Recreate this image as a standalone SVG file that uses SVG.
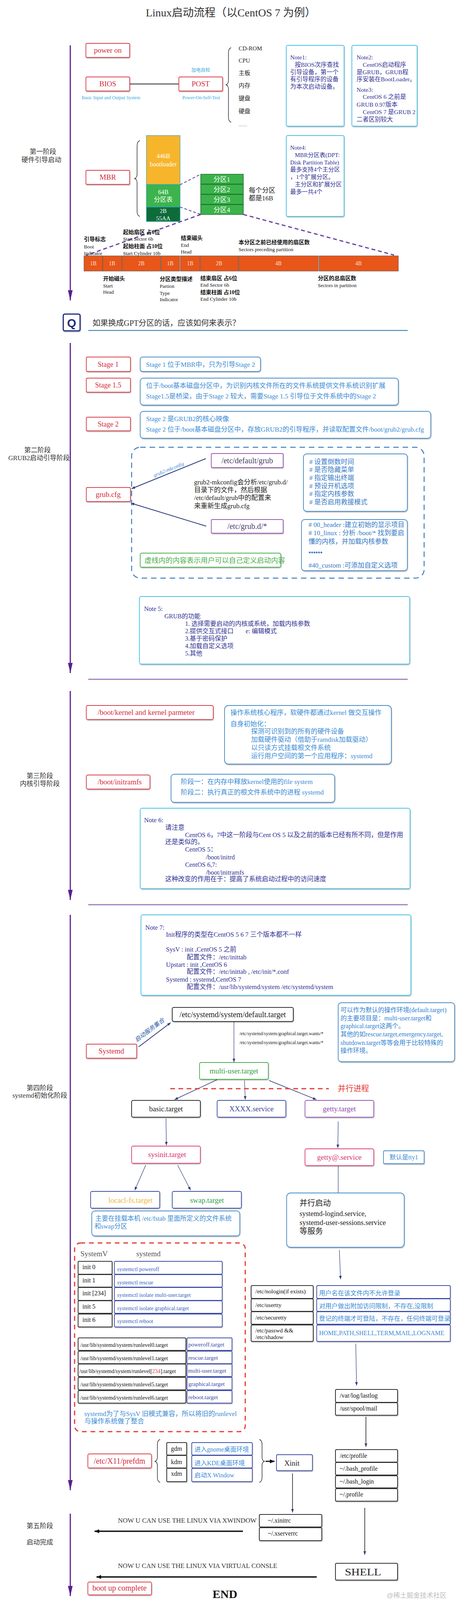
<svg xmlns="http://www.w3.org/2000/svg" width="1183" height="4220" viewBox="0 0 1183 4220">
<defs>
<filter id="sh" x="-10%" y="-20%" width="125%" height="150%"><feDropShadow dx="1" dy="2" stdDeviation="1.2" flood-color="#000" flood-opacity="0.28"/></filter>
<marker id="ah" viewBox="0 0 10 8" refX="10" refY="4" markerWidth="9" markerHeight="7" markerUnits="userSpaceOnUse" orient="auto"><path d="M0,0 L10,4 L0,8 z" fill="#2d3a78"/></marker>
<marker id="ahP" viewBox="0 0 26 12" refX="26" refY="6" markerWidth="26" markerHeight="12" markerUnits="userSpaceOnUse" orient="auto"><path d="M0,0 L26,6 L0,12 z" fill="#5b1f8f"/></marker>
<marker id="ahK" viewBox="0 0 12 10" refX="12" refY="5" markerWidth="12" markerHeight="10" markerUnits="userSpaceOnUse" orient="auto"><path d="M0,0 L12,5 L0,10 z" fill="#111"/></marker>
</defs>
<style>
text{font-family:'Liberation Serif','Noto Sans CJK SC',serif;}
.c{text-anchor:middle}
.rb{fill:#fff;stroke:#d9404c;stroke-width:1.8;filter:url(#sh)}
.bb{fill:#fff;stroke:#4a8cc6;stroke-width:1.8;filter:url(#sh)}
.nb{fill:#fff;stroke:#48c0e8;stroke-width:1.8;filter:url(#sh)}
.kb{fill:#fff;stroke:#333;stroke-width:2;filter:url(#sh)}
.vb{fill:#fff;stroke:#3f4fa8;stroke-width:1.8;filter:url(#sh)}
.pb{fill:#fff;stroke:#9b59b6;stroke-width:1.8;filter:url(#sh)}
.mb{fill:#fff;stroke:#e0457b;stroke-width:1.8;filter:url(#sh)}
.gb{fill:#fff;stroke:#4caf50;stroke-width:1.8;filter:url(#sh)}
.tr{fill:#d42a3a;font-size:19px}
.tb{fill:#3a8bd4;font-size:17px}
.tn{fill:#2e3192;font-size:16px}
.tk{fill:#222}
.side{fill:#333;font-size:17px;text-anchor:middle}
.lbl{fill:#111;font-size:14px;font-weight:bold}
.lbe{fill:#111;font-size:13px}
.wt{fill:#fff}
.cell{fill:#e8561a;stroke:#555;stroke-width:1}
.stage{stroke:#5b1f8f;stroke-width:3;fill:none;marker-end:url(#ahP)}
.sep{stroke:#a07cc0;stroke-width:3}
.con{stroke:#2d3a78;stroke-width:1.5;fill:none;marker-end:url(#ah)}
.thick{stroke:#111;stroke-width:3.5;fill:none;marker-end:url(#ahK)}
</style>
<rect width="1183" height="4220" fill="#fff"/>

<text id="title" x="591" y="42" class="c" style="font-size:28px;fill:#333">Linux启动流程（以CentOS 7 为例）</text>

<g id="side-labels">
<text x="110" y="394" class="side">第一阶段</text>
<text x="106" y="415" class="side">硬件引导启动</text>
<text x="96" y="1158" class="side">第二阶段</text>
<text x="100" y="1178" class="side">GRUB2启动引导阶段</text>
<text x="102" y="1992" class="side">第三阶段</text>
<text x="102" y="2012" class="side">内核引导阶段</text>
<text x="102" y="2791" class="side">第四阶段</text>
<text x="102" y="2810" class="side">systemd初始化阶段</text>
<text x="102" y="3912" class="side">第五阶段</text>
<text x="102" y="3954" class="side">启动完成</text>
</g>

<g id="connectors">
<line x1="180" y1="116" x2="180" y2="769" class="stage"/>
<line x1="180" y1="878" x2="180" y2="1723" class="stage"/>
<line x1="180" y1="1769" x2="180" y2="2304" class="stage"/>
<line x1="180" y1="2342" x2="180" y2="3815" class="stage"/>
<line x1="180" y1="3875" x2="180" y2="4086" class="stage"/>
<line x1="332" y1="215" x2="458" y2="215" stroke="#666" stroke-width="3"/>
<path d="M592,122 Q585,124 585,136 L585,205 Q585,215 579,217 Q585,219 585,229 L585,300 Q585,311 592,313" fill="none" stroke="#222" stroke-width="1.4"/>
<path d="M358,360 Q351,362 351,374 L351,445 Q351,455 345,457 Q351,459 351,469 L351,541 Q351,552 358,554" fill="none" stroke="#222" stroke-width="1.4"/>
<line x1="461" y1="473" x2="514" y2="446" stroke="#5b3f9e" stroke-width="2" stroke-dasharray="7 5"/>
<line x1="461" y1="530" x2="514" y2="549" stroke="#5b3f9e" stroke-width="2" stroke-dasharray="7 5"/>
<line x1="514" y1="549" x2="220" y2="654" stroke="#6b3fa0" stroke-width="3" stroke-dasharray="10 7"/>
<line x1="623" y1="549" x2="1009" y2="653" stroke="#6b3fa0" stroke-width="3" stroke-dasharray="10 7"/>
<line x1="226" y1="846" x2="1044" y2="846" stroke="#4a8dbd" stroke-width="2.5"/>
<line x1="527" y1="1174" x2="337" y2="1251" class="con" style="stroke-width:2"/>
<line x1="528" y1="1347" x2="335" y2="1288" class="con" style="stroke-width:2"/>
<text x="432" y="1206" class="c" transform="rotate(-22 432 1202)" style="font-size:13px;fill:#3a8bd4;font-style:italic">grub2-mkconfig</text>
<line x1="226" y1="1739" x2="1044" y2="1739" class="sep"/>
<line x1="226" y1="2316" x2="1044" y2="2316" class="sep"/>
<line x1="355" y1="2680" x2="437" y2="2618" class="con" style="stroke-width:2"/>
<text x="383" y="2642" class="c" transform="rotate(-37 383 2637)" style="font-size:15px;fill:#2e5ca8;font-style:italic">启动服务集合</text>
<line x1="599" y1="2615" x2="599" y2="2719" class="con" style="stroke-width:1.2"/>
<text x="613" y="2650" style="font-size:12px;fill:#222">/etc/systemd/system/graphical.target.wants/*</text>
<text x="613" y="2673" style="font-size:12px;fill:#222">/etc/systemd/system/graphical.target.wants/*</text>
<line x1="556" y1="2764" x2="447" y2="2815" class="con"/>
<line x1="626" y1="2766" x2="628" y2="2815" class="con" style="stroke-width:1.2"/>
<line x1="689" y1="2766" x2="810" y2="2815" class="con"/>
<line x1="436" y1="2787" x2="842" y2="2787" stroke="#e53935" stroke-width="3" stroke-dasharray="12 9"/>
<text x="865" y="2794" style="font-size:20px;fill:#e53935">并行进程</text>
<line x1="425" y1="2863" x2="426" y2="2932" class="con" style="stroke-width:1.2"/>
<line x1="866" y1="2871" x2="865" y2="2939" class="con" style="stroke-width:1.2"/>
<line x1="373" y1="2983" x2="345" y2="3047" class="con" style="stroke-width:1.2"/>
<line x1="455" y1="2983" x2="488" y2="3047" class="con" style="stroke-width:1.2"/>
<line x1="866" y1="2984" x2="866" y2="3053" stroke="#2d3a78" stroke-width="1.2"/>
<line x1="869" y1="3200" x2="872" y2="3275" class="con" style="stroke-width:1.2"/>
<line x1="911" y1="3440" x2="913" y2="3547" class="con" style="stroke-width:1.2"/>
<line x1="937" y1="3627" x2="937" y2="3704" stroke="#111" stroke-width="1.5" marker-end="url(#ah)"/>
<line x1="934" y1="3860" x2="934" y2="3980" stroke="#111" stroke-width="1.5" marker-end="url(#ah)"/>
<path d="M410,3685 Q403,3687 403,3698 L403,3730 Q403,3739 397,3741 Q403,3743 403,3752 L403,3782 Q403,3793 410,3795" fill="none" stroke="#222" stroke-width="1.4"/>
<path d="M664,3685 Q671,3687 671,3698 L671,3730 Q671,3739 677,3741 Q671,3743 671,3752 L671,3782 Q671,3793 664,3795" fill="none" stroke="#222" stroke-width="1.4"/>
<line x1="680" y1="3741" x2="703" y2="3741" class="thick" style="stroke-width:3"/>
<line x1="749" y1="3772" x2="749" y2="3872" stroke="#111" stroke-width="1.5" marker-end="url(#ah)"/>
<line x1="622" y1="3920" x2="242" y2="3920" class="thick"/>
<line x1="811" y1="4037" x2="247" y2="4037" class="thick"/>
<line x1="190" y1="4101" x2="1009" y2="4101" stroke="#b39ddb" stroke-width="3"/>
</g>

<g id="power-on"><rect x="220" y="111" width="112" height="36" rx="3" class="rb"/><text x="276" y="135" class="c tr">power on</text></g>
<g id="bios"><rect x="220" y="197" width="112" height="36" rx="3" class="rb"/><text x="276" y="221" class="c tr">BIOS</text>
<text x="284" y="254" class="c" style="font-size:12px;fill:#3aa8e0">Basic Input and Output System</text></g>
<g id="post"><rect x="458" y="197" width="112" height="36" rx="3" class="rb"/><text x="514" y="221" class="c tr">POST</text>
<text x="514" y="184" class="c" style="font-size:12px;fill:#3aa8e0">加电自检</text>
<text x="515" y="254" class="c" style="font-size:12px;fill:#3aa8e0">Power-On-Self-Test</text></g>
<g id="hw-list" style="font-size:15px;fill:#222">
<text x="611" y="129">CD-ROM</text><text x="611" y="160">CPU</text><text x="611" y="192">主板</text><text x="611" y="224">内存</text><text x="611" y="257">键盘</text><text x="611" y="290">硬盘</text><text x="611" y="323" style="font-size:11px">……</text>
</g>
<g id="note1"><rect x="733" y="116" width="148" height="207" rx="4" class="nb"/>
<text class="tn" style="font-size:15.5px"><tspan x="743" y="152">Note1:</tspan><tspan x="755" y="171">按BIOS次序查找</tspan><tspan x="743" y="190">引导设备，第一个</tspan><tspan x="743" y="208">有引导程序的设备</tspan><tspan x="743" y="227">为本次启动设备。</tspan></text></g>
<g id="note2"><rect x="901" y="116" width="167" height="207" rx="4" class="nb"/>
<text class="tn" style="font-size:15.5px"><tspan x="913" y="152">Note2:</tspan><tspan x="929" y="171">CentOS启动程序</tspan><tspan x="913" y="190">是GRUB，GRUB程</tspan><tspan x="913" y="208">序安装在BootLoader。</tspan><tspan x="913" y="235">Note3:</tspan><tspan x="929" y="253">CentOS 6 之前是</tspan><tspan x="913" y="273">GRUB 0.97版本</tspan><tspan x="929" y="292">CentOS 7 是GRUB 2</tspan><tspan x="913" y="311">二者区别较大</tspan></text></g>

<g id="mbr"><rect x="220" y="436" width="112" height="36" rx="3" class="rb"/><text x="276" y="460" class="c tr">MBR</text></g>
<g id="mbr-blocks">
<rect x="375" y="347" width="86" height="125" fill="#f7b52b" stroke="#5fa8a8" stroke-width="1.5"/>
<text x="418" y="405" class="c wt" style="font-size:16px">446B</text><text x="418" y="426" class="c wt" style="font-size:16px">bootloader</text>
<rect x="375" y="473" width="86" height="56" fill="#3cb44b" stroke="#2aa6a0" stroke-width="1.5"/>
<text x="418" y="497" class="c wt" style="font-size:16px">64B</text><text x="418" y="516" class="c wt" style="font-size:16px">分区表</text>
<rect x="375" y="530" width="86" height="37" fill="#0e6b3a" stroke="#2aa6a0" stroke-width="1.5"/>
<text x="418" y="545" class="c wt" style="font-size:15px">2B</text><text x="418" y="564" class="c wt" style="font-size:15px">55AA</text>
</g>
<g id="partitions">
<rect x="514" y="446" width="109" height="25" fill="#3bb34a" stroke="#1f6b30" stroke-width="1.5"/>
<rect x="514" y="472" width="109" height="25" fill="#3bb34a" stroke="#1f6b30" stroke-width="1.5"/>
<rect x="514" y="498" width="109" height="25" fill="#3bb34a" stroke="#1f6b30" stroke-width="1.5"/>
<rect x="514" y="524" width="109" height="25" fill="#3bb34a" stroke="#1f6b30" stroke-width="1.5"/>
<text x="568" y="465" class="c wt" style="font-size:17px">分区1</text><text x="568" y="491" class="c wt" style="font-size:17px">分区2</text><text x="568" y="517" class="c wt" style="font-size:17px">分区3</text><text x="568" y="543" class="c wt" style="font-size:17px">分区4</text>
<text x="637" y="493" style="font-size:17px;fill:#222">每个分区</text><text x="637" y="513" style="font-size:17px;fill:#222">都是16B</text>
</g>
<g id="note4"><rect x="733" y="347" width="148" height="207" rx="4" class="nb"/>
<text class="tn" style="font-size:15px"><tspan x="743" y="383">Note4:</tspan><tspan x="755" y="402">MBR分区表(DPT:</tspan><tspan x="743" y="421">Disk Partition Table)</tspan><tspan x="743" y="439">最多支持4个主分区</tspan><tspan x="743" y="458">，1个扩展分区。</tspan><tspan x="755" y="477">主分区和扩展分区</tspan><tspan x="743" y="496">最多一共4个</tspan></text></g>

<g id="partition-entry">
<rect x="215" y="655" width="48" height="39" class="cell"/><rect x="263" y="655" width="49" height="39" class="cell"/><rect x="313" y="655" width="99" height="39" class="cell"/><rect x="413" y="655" width="47" height="39" class="cell"/><rect x="462" y="655" width="50" height="39" class="cell"/><rect x="513" y="655" width="97" height="39" class="cell"/><rect x="611" y="655" width="204" height="39" class="cell"/><rect x="817" y="655" width="203" height="39" class="cell"/>
<g class="c" style="font-size:14px;fill:#fde8d8"><text x="239" y="679">1B</text><text x="287" y="679">1B</text><text x="362" y="679">2B</text><text x="436" y="679">1B</text><text x="487" y="679">1B</text><text x="561" y="679">2B</text><text x="713" y="679">4B</text><text x="918" y="679">4B</text></g>
<text x="215" y="617" class="lbl">引导标志</text><text x="215" y="636" class="lbe">Boot</text><text x="215" y="653" class="lbe">Indicator</text>
<text x="315" y="599" class="lbl">起始扇区 占6位</text><text x="315" y="616" class="lbe">Start Sector  6b</text><text x="315" y="635" class="lbl">起始柱面 占10位</text><text x="315" y="653" class="lbe">Start Cylinder 10b</text>
<text x="463" y="614" class="lbl">结束磁头</text><text x="463" y="632" class="lbe">End</text><text x="463" y="649" class="lbe">Head</text>
<text x="611" y="625" class="lbl">本分区之前已经使用的扇区数</text><text x="611" y="643" class="lbe">Sectors preceding partition</text>
<text x="264" y="718" class="lbl">开始磁头</text><text x="264" y="736" class="lbe">Start</text><text x="264" y="752" class="lbe">Head</text>
<text x="409" y="719" class="lbl">分区类型描述</text><text x="409" y="737" class="lbe">Partion</text><text x="409" y="755" class="lbe">Type</text><text x="409" y="771" class="lbe">Indicator</text>
<text x="513" y="717" class="lbl">结束扇区 占6位</text><text x="513" y="734" class="lbe">End Sector  6b</text><text x="513" y="753" class="lbl">结束柱面 占10位</text><text x="513" y="770" class="lbe">End Cylinder 10b</text>
<text x="814" y="717" class="lbl">分区的总扇区数</text><text x="814" y="735" class="lbe">Sectors in partition</text>
</g>

<g id="question"><rect x="162" y="804" width="43" height="43" rx="4" fill="#fff" stroke="#1f2d7a" stroke-width="3" style="filter:url(#sh)"/>
<text x="183.5" y="837" class="c" style="font-family:'Liberation Sans',sans-serif;font-size:30px;font-weight:bold;fill:#1f2d7a">Q</text>
<text x="237" y="834" style="font-size:20px;fill:#333">如果换成GPT分区的话，应该如何来表示？</text></g>

<g id="stage1"><rect x="221" y="914" width="113" height="37" rx="3" class="rb"/><text x="277" y="939" class="c tr" style="font-size:18px">Stage 1</text></g>
<g id="stage1-desc"><rect x="359" y="914" width="308" height="37" rx="6" class="bb"/><text x="374" y="939" class="tb">Stage 1 位于MBR中，只为引导Stage 2</text></g>
<g id="stage15"><rect x="221" y="968" width="113" height="36" rx="3" class="rb"/><text x="277" y="992" class="c tr" style="font-size:18px">Stage 1.5</text></g>
<g id="stage15-desc"><rect x="359" y="968" width="661" height="69" rx="8" class="bb"/><text x="374" y="993" class="tb">位于/boot基本磁盘分区中，为识别内核文件所在的文件系统提供文件系统识别扩展</text><text x="374" y="1020" class="tb">Stage1.5是桥梁，由于Stage 2 较大，需要Stage 1.5 引导位于文件系统中的Stage 2</text></g>
<g id="stage2"><rect x="221" y="1068" width="113" height="35" rx="3" class="rb"/><text x="277" y="1092" class="c tr" style="font-size:18px">Stage 2</text></g>
<g id="stage2-desc"><rect x="359" y="1053" width="744" height="69" rx="8" class="bb"/><text x="374" y="1078" class="tb">Stage 2 是GRUB2的核心映像</text><text x="374" y="1105" class="tb">Stage 2 位于/boot基本磁盘分区中，存放GRUB2的引导程序，并读取配置文件/boot/grub2/grub.cfg</text></g>

<g id="custom-area"><rect x="337" y="1145" width="749" height="335" rx="22" fill="none" stroke="#3d7fc0" stroke-width="2.5" stroke-dasharray="14 10"/></g>
<g id="grub-cfg"><rect x="221" y="1248" width="113" height="36" rx="3" class="rb"/><text x="277" y="1272" class="c tr">grub.cfg</text></g>
<g id="etc-default-grub"><rect x="541" y="1161" width="184" height="36" rx="3" class="pb"/><text x="633" y="1186" class="c" style="font-size:20px;fill:#4b3a6b">/etc/default/grub</text></g>
<g id="etc-grub-d"><rect x="541" y="1330" width="184" height="35" rx="3" class="pb"/><text x="633" y="1354" class="c" style="font-size:20px;fill:#4b3a6b">/etc/grub.d/*</text></g>
<g id="mkconfig-text" style="font-size:17px;fill:#222"><text x="497" y="1240">grub2-mkconfig会分析/etc/grub.d/</text><text x="497" y="1260">目录下的文件，然后根据</text><text x="497" y="1280">/etc/default/grub中的配置来</text><text x="497" y="1301">来重新生成grub.cfg</text></g>
<g id="default-grub-opts"><rect x="777" y="1162" width="266" height="147" rx="8" class="bb"/>
<text class="tb" style="fill:#3579c4"><tspan x="792" y="1188"># 设置倒数时间</tspan><tspan x="792" y="1208"># 是否隐藏菜单</tspan><tspan x="792" y="1229"># 指定输出终端</tspan><tspan x="792" y="1250"># 预设开机选项</tspan><tspan x="792" y="1270"># 指定内核参数</tspan><tspan x="792" y="1291"># 是否启用救援模式</tspan></text></g>
<g id="grub-d-opts"><rect x="772" y="1330" width="271" height="131" rx="8" class="bb"/>
<text class="tb" style="fill:#3579c4"><tspan x="790" y="1349"># 00_header :建立初始的显示项目</tspan><tspan x="790" y="1370"># 10_linux : 分析 /boot/* 找到要启</tspan><tspan x="790" y="1392">懂的内核，并加载内核参数</tspan><tspan x="790" y="1420" style="font-weight:bold">••••••</tspan><tspan x="790" y="1453">#40_custom :可添加自定义选项</tspan></text></g>
<g id="custom-note"><rect x="359" y="1416" width="360" height="36" rx="4" class="gb"/><text x="370" y="1441" style="font-size:18px;fill:#4cae4c">虚线内的内容表示用户可以自己定义启动内容</text></g>
<g id="note5"><rect x="357" y="1527" width="692" height="173" rx="5" class="nb"/>
<text class="tn"><tspan x="369" y="1564">Note 5:</tspan><tspan x="421" y="1583">GRUB的功能</tspan><tspan x="474" y="1602">1. 选择需要启动的内核或系统，加载内核参数</tspan><tspan x="474" y="1621">2.提供交互式接口</tspan><tspan x="629" y="1621">e: 编辑模式</tspan><tspan x="474" y="1640">3.基于密码保护</tspan><tspan x="474" y="1659">4.加载自定义选项</tspan><tspan x="474" y="1678">5.其他</tspan></text></g>

<g id="boot-kernel"><rect x="221" y="1806" width="325" height="36" rx="4" class="rb"/><text x="250" y="1830" class="tr">/boot/kernel and kernel parmeter</text></g>
<g id="kernel-desc"><rect x="575" y="1806" width="427" height="150" rx="10" class="bb"/>
<text class="tb"><tspan x="590" y="1830">操作系统核心程序，软硬件都通过kernel 做交互操作</tspan><tspan x="590" y="1859">自身初始化：</tspan><tspan x="643" y="1878">探测可识别到的所有的硬件设备</tspan><tspan x="643" y="1899">加载硬件驱动（借助于ramdisk加载驱动）</tspan><tspan x="643" y="1920">以只读方式挂载根文件系统</tspan><tspan x="643" y="1941">运行用户空间的第一个应用程序：systemd</tspan></text></g>
<g id="boot-initramfs"><rect x="221" y="1984" width="163" height="36" rx="4" class="rb"/><text x="250" y="2008" class="tr">/boot/initramfs</text></g>
<g id="initramfs-desc"><rect x="438" y="1982" width="419" height="72" rx="8" class="bb"/><text x="463" y="2007" class="tb">阶段一：在内存中释放kernel使用的file system</text><text x="463" y="2034" class="tb">阶段二：执行真正的根文件系统中的进程 systemd</text></g>
<g id="note6"><rect x="359" y="2069" width="691" height="206" rx="5" class="nb"/>
<text class="tn" style="font-size:16.5px"><tspan x="369" y="2105">Note 6:</tspan><tspan x="423" y="2124">请注意</tspan><tspan x="474" y="2143">CentOS 6，7中这一阶段与Cent OS 5 以及之前的版本已经有所不同，但是作用</tspan><tspan x="423" y="2161">还是类似的。</tspan><tspan x="474" y="2180">CentOS 5：</tspan><tspan x="527" y="2200">/boot/initrd</tspan><tspan x="474" y="2219">CentOS 6,7:</tspan><tspan x="527" y="2239">/boot/initramfs</tspan><tspan x="423" y="2256">这种改变的作用在于：提高了系统启动过程中的访问速度</tspan></text></g>

<g id="note7"><rect x="361" y="2342" width="691" height="206" rx="5" class="nb"/>
<text class="tn" style="font-size:16.5px"><tspan x="372" y="2380">Note 7:</tspan><tspan x="425" y="2398">Init程序的类型在CentOS 5 6 7 三个版本都不一样</tspan><tspan x="425" y="2436">SysV : init ,CentOS 5 之前</tspan><tspan x="478" y="2456">配置文件：/etc/inittab</tspan><tspan x="425" y="2475">Upstart : init ,CentOS 6</tspan><tspan x="478" y="2493">配置文件：/etc/inittab , /etc/init/*.conf</tspan><tspan x="425" y="2513">Systemd : systemd,CentOS 7</tspan><tspan x="478" y="2532">配置文件：/usr/lib/systemd/system   /etc/systemd/system</tspan></text></g>

<g id="default-target"><rect x="441" y="2579" width="310" height="36" rx="4" class="kb"/><text x="596" y="2604" class="c tk" style="font-size:20px">/etc/systemd/system/default.target</text></g>
<g id="systemd"><rect x="221" y="2673" width="129" height="36" rx="3" class="rb"/><text x="285" y="2697" class="c tr">Systemd</text></g>
<g id="target-note"><rect x="866" y="2567" width="298" height="151" rx="8" class="bb"/>
<text class="tb" style="font-size:16px;fill:#2f7fd0"><tspan x="872" y="2591">可以作为默认的操作环境(default.target)</tspan><tspan x="872" y="2612">的主要项目是：multi-user.target和</tspan><tspan x="872" y="2632">graphical.target这两个。</tspan><tspan x="872" y="2653">其他的如rescue.target,emergency.target,</tspan><tspan x="872" y="2675">shutdown.target等等会用于比较特殊的</tspan><tspan x="872" y="2695">操作环境。</tspan></text></g>
<g id="multi-user-target"><rect x="511" y="2720" width="176" height="43" rx="4" class="gb"/><text x="599" y="2748" class="c" style="font-size:19px;fill:#2f9e46">multi-user.target</text></g>
<g id="basic-target"><rect x="337" y="2817" width="176" height="43" rx="4" class="kb"/><text x="425" y="2845" class="c tk" style="font-size:19px">basic.target</text></g>
<g id="xxxx-service"><rect x="556" y="2817" width="176" height="43" rx="4" class="vb"/><text x="644" y="2845" class="c" style="font-size:19px;fill:#3b4a9c">XXXX.service</text></g>
<g id="getty-target"><rect x="781" y="2817" width="176" height="43" rx="4" class="pb"/><text x="869" y="2845" class="c" style="font-size:19px;fill:#8e44ad">getty.target</text></g>
<g id="sysinit-target"><rect x="337" y="2934" width="176" height="44" rx="4" class="mb"/><text x="428" y="2962" class="c" style="font-size:19px;fill:#d6336c">sysinit.target</text></g>
<g id="getty-service"><rect x="781" y="2941" width="176" height="43" rx="4" class="mb"/><text x="869" y="2969" class="c" style="font-size:19px;fill:#d6336c">getty@.service</text></g>
<g id="tty1"><rect x="982" y="2946" width="104" height="33" rx="3" class="bb"/><text x="1034" y="2968" class="c tb" style="font-size:16px">默认是tty1</text></g>
<g id="local-fs-target"><rect x="232" y="3050" width="177" height="43" rx="4" class="vb"/><text x="334" y="3079" class="c" style="font-size:19px;fill:#f2b33d">locacl-fs.target</text></g>
<g id="swap-target"><rect x="441" y="3050" width="177" height="43" rx="4" class="vb"/><text x="530" y="3079" class="c" style="font-size:19px;fill:#2e9e4a">swap.target</text></g>
<g id="fstab-note"><rect x="235" y="3100" width="379" height="64" rx="8" class="bb"/><text x="244" y="3125" class="tb" style="font-size:16.5px">主要在挂载本机 /etc/fstab 里面所定义的文件系统</text><text x="242" y="3145" class="tb" style="font-size:16.5px">和swap分区</text></g>
<g id="parallel-start"><rect x="734" y="3054" width="301" height="139" rx="10" class="bb"/>
<text x="767" y="3087" class="tk" style="font-size:20px">并行启动</text><text x="767" y="3113" class="tk" style="font-size:18px">systemd-logind.service,</text><text x="767" y="3136" class="tk" style="font-size:18.5px">systemd-user-sessions.service</text><text x="767" y="3159" class="tk" style="font-size:20px">等服务</text></g>

<g id="runlevel-compat">
<rect x="191" y="3182" width="437" height="483" rx="15" fill="none" stroke="#e53935" stroke-width="3" stroke-dasharray="12 10"/>
<text x="206" y="3216" style="font-size:19px;fill:#555">SystemV</text><text x="349" y="3216" style="font-size:19px;fill:#555">systemd</text>
<g style="font-size:16px;fill:#111">
<rect x="200" y="3229" width="87" height="33" rx="2" class="kb"/><text x="211" y="3249">init 0</text>
<rect x="200" y="3263" width="87" height="32" rx="2" class="kb"/><text x="211" y="3283">init 1</text>
<rect x="200" y="3296" width="87" height="33" rx="2" class="kb"/><text x="211" y="3316">init [234]</text>
<rect x="200" y="3330" width="87" height="32" rx="2" class="kb"/><text x="211" y="3350">init 5</text>
<rect x="200" y="3364" width="87" height="33" rx="2" class="kb"/><text x="211" y="3384">init 6</text>
</g>
<g style="font-size:14px;fill:#3565c0">
<rect x="293" y="3229" width="276" height="33" rx="3" class="vb"/><text x="300" y="3254">systemctl poweroff</text>
<rect x="293" y="3263" width="276" height="32" rx="3" class="vb"/><text x="300" y="3288">systemctl rescue</text>
<rect x="293" y="3296" width="276" height="33" rx="3" class="vb"/><text x="300" y="3320">systemctl isolate multi-user.target</text>
<rect x="293" y="3330" width="276" height="32" rx="3" class="vb"/><text x="300" y="3354">systemctl isolate graphical.target</text>
<rect x="293" y="3364" width="276" height="33" rx="3" class="vb"/><text x="300" y="3387">systemctl reboot</text>
</g>
<g style="font-size:14px;fill:#111">
<rect x="200" y="3425" width="276" height="32" rx="3" class="kb"/><text x="206" y="3448">/usr/lib/systemd/system/runlevel0.target</text>
<rect x="200" y="3459" width="276" height="32" rx="3" class="kb"/><text x="206" y="3482">/usr/lib/systemd/system/runlevel1.target</text>
<rect x="200" y="3492" width="276" height="32" rx="3" class="kb"/><text x="203" y="3515">/usr/lib/systemd/system/runlevel[<tspan fill="#e53935">234</tspan>].target</text>
<rect x="200" y="3526" width="276" height="32" rx="3" class="kb"/><text x="206" y="3549">/usr/lib/systemd/system/runlevel5.target</text>
<rect x="200" y="3560" width="276" height="32" rx="3" class="kb"/><text x="206" y="3583">/usr/lib/systemd/system/runlevel6.target</text>
</g>
<g style="font-size:15px;fill:#3b4aa8">
<rect x="479" y="3425" width="115" height="32" rx="2" class="vb"/><text x="482" y="3447">poweroff.target</text>
<rect x="479" y="3459" width="115" height="32" rx="2" class="vb"/><text x="482" y="3481">rescue.target</text>
<rect x="479" y="3492" width="115" height="32" rx="2" class="vb"/><text x="481" y="3514">multi-user.target</text>
<rect x="479" y="3526" width="115" height="32" rx="2" class="vb"/><text x="482" y="3548">graphical.target</text>
<rect x="479" y="3560" width="115" height="32" rx="2" class="vb"/><text x="482" y="3582">reboot.target</text>
</g>
<text x="216" y="3625" class="tb">systemd为了与SysV 旧模式兼容，所以将旧的runlevel</text>
<text x="216" y="3644" class="tb">与操作系统做了整合</text>
</g>

<g id="login-files">
<g style="font-size:15px;fill:#111">
<rect x="643" y="3291" width="159" height="33" rx="3" class="kb"/><text x="654" y="3311">/etc/nologin(if exists)</text>
<rect x="643" y="3325" width="159" height="32" rx="3" class="kb"/><text x="654" y="3346">/etc/usertty</text>
<rect x="643" y="3358" width="159" height="32" rx="3" class="kb"/><text x="654" y="3378">/etc/securetty</text>
<rect x="643" y="3392" width="159" height="42" rx="3" class="kb"/><text x="654" y="3411">/etc/passwd &amp;&amp;</text><text x="654" y="3428">/etc/shadow</text>
</g>
<g style="font-size:16px;fill:#3a8bd4">
<rect x="811" y="3291" width="342" height="33" rx="3" class="vb"/><text x="817" y="3316">用户名在该文件内不允许登录</text>
<rect x="811" y="3325" width="342" height="32" rx="3" class="vb"/><text x="817" y="3349">对用户做出附加访问限制，不存在,没限制</text>
<rect x="811" y="3358" width="342" height="32" rx="3" class="vb"/><text x="817" y="3381">登记的终端才可登陆，不存在，任何终端可登录</text>
<rect x="811" y="3392" width="342" height="42" rx="3" class="vb"/><text x="817" y="3418">HOME,PATH,SHELL,TERM,MAIL,LOGNAME</text>
</g>
</g>
<g id="lastlog" style="font-size:16px;fill:#111">
<rect x="859" y="3557" width="159" height="33" rx="3" class="kb"/><text x="870" y="3578">/var/log/lastlog</text>
<rect x="859" y="3591" width="159" height="32" rx="3" class="kb"/><text x="870" y="3611">/usr/spool/mail</text>
</g>
<g id="profiles" style="font-size:16px;fill:#111">
<rect x="859" y="3711" width="159" height="32" rx="3" class="kb"/><text x="870" y="3732">/etc/profile</text>
<rect x="859" y="3744" width="159" height="32" rx="3" class="kb"/><text x="870" y="3765">~/.bash_profile</text>
<rect x="859" y="3778" width="159" height="31" rx="3" class="kb"/><text x="870" y="3798">~/.bash_login</text>
<rect x="859" y="3811" width="159" height="32" rx="3" class="kb"/><text x="870" y="3831">~/.profile</text>
</g>
<g id="prefdm"><rect x="225" y="3722" width="163" height="36" rx="4" class="rb"/><text x="306" y="3747" class="c tr" style="font-size:20px">/etc/X11/prefdm</text></g>
<g id="display-managers">
<g style="font-size:16px;fill:#111">
<rect x="427" y="3693" width="51" height="32" rx="2" class="kb"/><text x="452" y="3714" class="c">gdm</text>
<rect x="427" y="3726" width="51" height="32" rx="2" class="kb"/><text x="452" y="3748" class="c">kdm</text>
<rect x="427" y="3759" width="51" height="34" rx="2" class="kb"/><text x="452" y="3778" class="c">xdm</text>
</g>
<g style="font-size:16px;fill:#3a8bd4">
<rect x="491" y="3693" width="155" height="32" rx="3" class="vb"/><text x="498" y="3716">进入gnome桌面环境</text>
<rect x="491" y="3726" width="155" height="32" rx="3" class="vb"/><text x="498" y="3751">进入KDE桌面环境</text>
<rect x="491" y="3759" width="155" height="34" rx="3" class="vb"/><text x="498" y="3782">启动X Window</text>
</g>
</g>
<g id="xinit"><rect x="708" y="3724" width="92" height="41" rx="3" class="vb"/><text x="728" y="3752" class="tk" style="font-size:19px">Xinit</text></g>
<g id="xinitrc" style="font-size:16px;fill:#111">
<rect x="664" y="3877" width="160" height="32" rx="3" class="kb"/><text x="686" y="3898">~/.xinitrc</text>
<rect x="664" y="3911" width="160" height="33" rx="3" class="kb"/><text x="686" y="3931">~/.xserverrc</text>
</g>
<text id="via-xwindow" x="302" y="3898" textLength="355" lengthAdjust="spacingAndGlyphs" style="font-size:17px;fill:#333">NOW U CAN USE THE LINUX VIA XWINDOW</text>
<text id="via-console" x="302" y="4014" textLength="408" lengthAdjust="spacingAndGlyphs" style="font-size:17px;fill:#333">NOW U CAN USE THE LINUX VIA VIRTUAL CONSLE</text>
<g id="shell"><rect x="859" y="4002" width="159" height="43" rx="3" class="kb"/><text x="883" y="4033" textLength="93" lengthAdjust="spacingAndGlyphs" class="tk" style="font-size:26px">SHELL</text></g>
<g id="boot-up-complete"><rect x="225" y="4050" width="163" height="33" rx="4" class="rb"/><text x="306" y="4072" class="c tr" style="font-size:20px">boot up complete</text></g>
<text id="end" x="576" y="4091" class="c" style="font-size:30px;font-weight:bold;fill:#111">END</text>
<text id="watermark" x="990" y="4090" style="font-size:17px;fill:#bdbdbd;font-family:'Liberation Sans','Noto Sans CJK SC',sans-serif">@稀土掘金技术社区</text>
</svg>
